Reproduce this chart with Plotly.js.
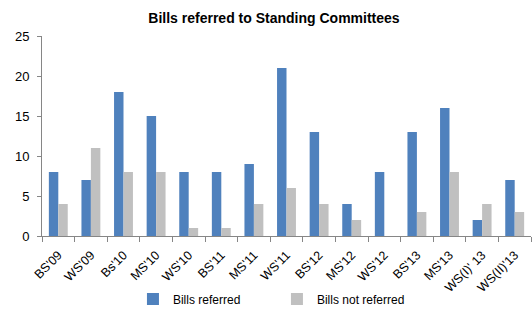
<!DOCTYPE html>
<html>
<head>
<meta charset="utf-8">
<script src="https://cdn.plot.ly/plotly-3.0.1.min.js"></script>
<style>html,body{margin:0;padding:0;background:#fff;}#chart{width:532px;height:309px;}</style>
</head>
<body>
<div id="chart"></div>
<script>
var categories = ["BS'09","WS'09","Bs'10","MS'10","WS'10","BS'11","MS'11","WS'11","BS'12","MS'12","WS'12","BS'13","MS'13","WS(I)' 13","WS(II)'13"];
var billsReferred = [8,7,18,15,8,8,9,21,13,4,8,13,16,2,7];
var billsNotReferred = [4,11,8,8,1,1,4,6,4,2,0,3,8,4,3];

var font = "Arial, 'Liberation Sans', sans-serif";
var data = [
  {type:'bar', name:'Bills referred', x:categories, y:billsReferred, marker:{color:'#4F81BD'}},
  {type:'bar', name:'Bills not referred', x:categories, y:billsNotReferred, marker:{color:'#C0C0C0'}}
];
var layout = {
  width:532, height:309,
  margin:{l:42, r:1, t:36, b:73, autoexpand:false},
  paper_bgcolor:'#fff', plot_bgcolor:'#fff',
  font:{family:font, size:12, color:'#000'},
  title:{text:'<b>Bills referred to Standing Committees</b>', font:{family:font, size:14, color:'#000'}, x:0.515, xanchor:'center', y:0.94, yanchor:'middle'},
  barmode:'group', bargap:0.42, bargroupgap:0,
  showlegend:true,
  legend:{orientation:'h', x:0.186, xanchor:'left', y:-0.315, yanchor:'middle', font:{family:font, size:12}, itemwidth:30, entrywidth:99, traceorder:'normal'},
  xaxis:{type:'category', automargin:false, tickson:'boundaries', ticks:'outside', ticklen:5, tickcolor:'#868686', showline:true, linecolor:'#868686', linewidth:1, tickangle:-45, ticklabelstandoff:6, tickfont:{family:font, size:12.5}, showgrid:false, zeroline:false},
  yaxis:{range:[0,25], automargin:false, dtick:5, ticks:'outside', ticklen:4, tickcolor:'#868686', showline:true, linecolor:'#868686', linewidth:1, ticklabelstandoff:5, showgrid:false, zeroline:false, tickfont:{family:font, size:13}}
};
Plotly.newPlot('chart', data, layout, {displayModeBar:false, staticPlot:true});
</script>
</body>
</html>
